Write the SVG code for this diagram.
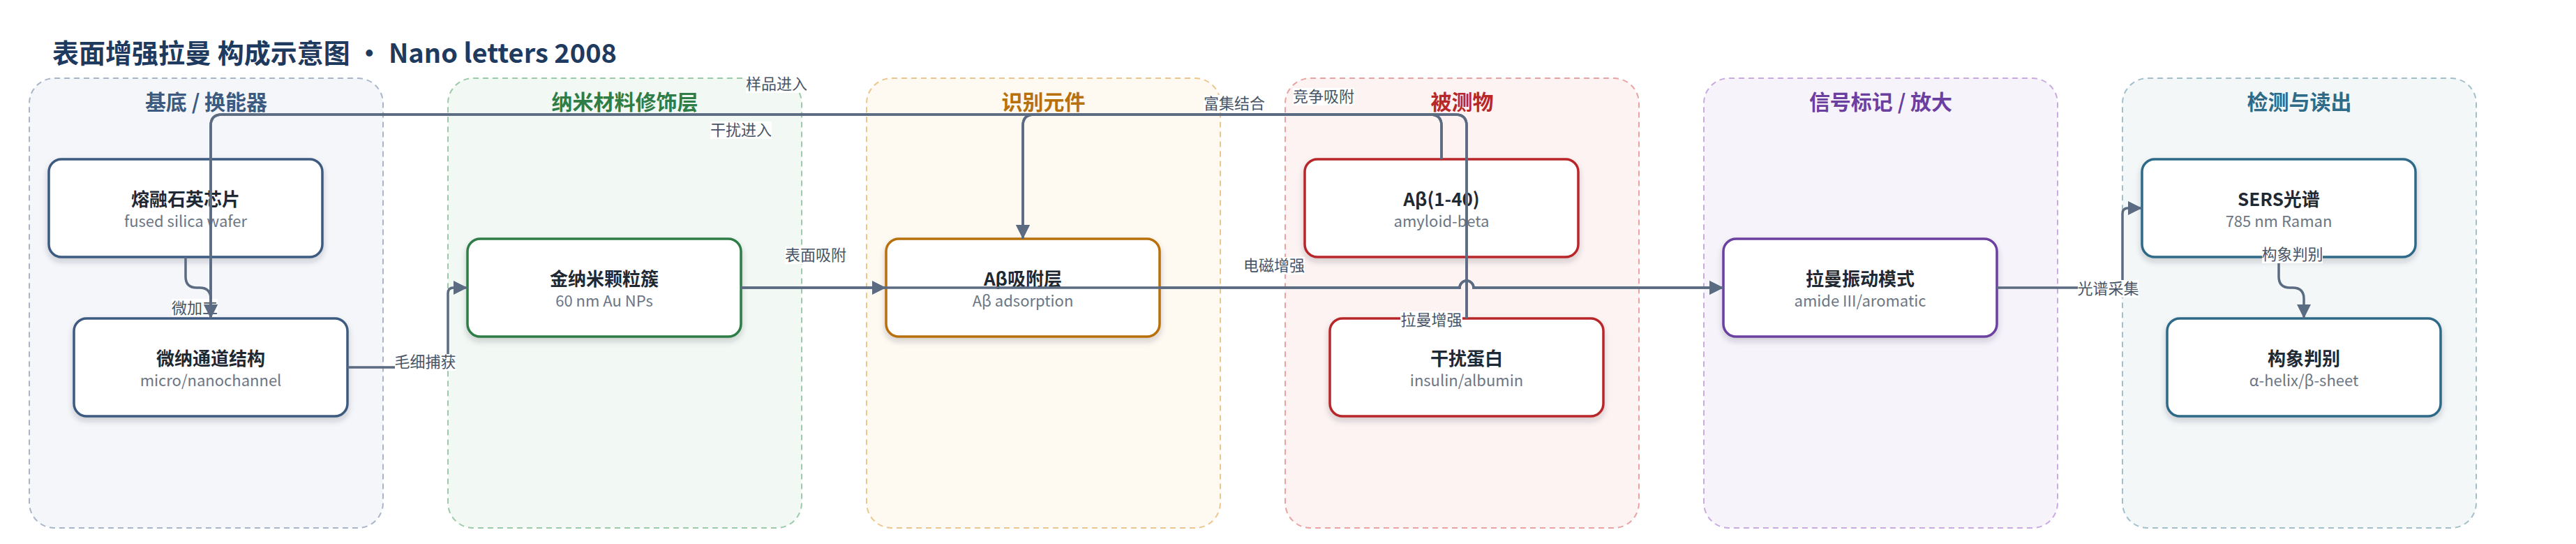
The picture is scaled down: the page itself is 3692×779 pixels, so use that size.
<svg xmlns="http://www.w3.org/2000/svg" width="3692" height="779" viewBox="0 0 3692 779">
<defs>
<style>
text{font-family:"Noto Sans CJK SC","Noto Sans",sans-serif;}
.title{font-size:38px;font-weight:700;fill:#1e3a5f;}
.lane{stroke-width:2;stroke-dasharray:8 6;}
.lt{font-size:30px;font-weight:700;text-anchor:middle;}
.node rect{fill:#ffffff;stroke-width:3.5;filter:url(#sh);}
.nt{font-size:26px;font-weight:700;fill:#1f2933;text-anchor:middle;}
.ns{font-size:22px;fill:#6b7684;text-anchor:middle;}
.e{fill:none;stroke:#5b6b81;stroke-width:3.5;}
.ea{marker-end:url(#ah);}
.lb{fill:#ffffff;}
.lx{font-size:22px;fill:#475466;text-anchor:middle;}
</style>
<filter id="sh" x="-10%" y="-20%" width="120%" height="150%">
<feDropShadow dx="0" dy="5" stdDeviation="4" flood-color="#1e293b" flood-opacity="0.2"/>
</filter>
<marker id="ah" markerUnits="userSpaceOnUse" markerWidth="20" markerHeight="20" refX="20" refY="10" orient="auto">
<path d="M0,0 L20,10 L0,20 z" fill="#5b6b81"/>
</marker>
</defs>
<rect width="3692" height="779" fill="#ffffff"/>
<text class="title" x="75" y="90">表面增强拉曼 构成示意图 · Nano letters 2008</text>

<g id="lanes">
<g id="lane-substrate"><rect class="lane" x="42" y="112" width="507" height="644" rx="36" fill="#f4f6fa" stroke="#a9b6c9"/><text class="lt" x="295.5" y="157" fill="#3d5a80">基底 / 换能器</text></g>
<g id="lane-nano"><rect class="lane" x="642" y="112" width="507" height="644" rx="36" fill="#f2f8f3" stroke="#9ccba9"/><text class="lt" x="895.5" y="157" fill="#2e7d46">纳米材料修饰层</text></g>
<g id="lane-recog"><rect class="lane" x="1242" y="112" width="507" height="644" rx="36" fill="#fef9f1" stroke="#ebc68f"/><text class="lt" x="1495.5" y="157" fill="#b8700a">识别元件</text></g>
<g id="lane-analyte"><rect class="lane" x="1842" y="112" width="507" height="644" rx="36" fill="#fdf3f2" stroke="#e9a3a1"/><text class="lt" x="2095.5" y="157" fill="#b8282a">被测物</text></g>
<g id="lane-signal"><rect class="lane" x="2442" y="112" width="507" height="644" rx="36" fill="#f7f3fb" stroke="#c9abe1"/><text class="lt" x="2695.5" y="157" fill="#6b3fa0">信号标记 / 放大</text></g>
<g id="lane-detect"><rect class="lane" x="3042" y="112" width="507" height="644" rx="36" fill="#f3f7f8" stroke="#a2c0cc"/><text class="lt" x="3295.5" y="157" fill="#2e6b88">检测与读出</text></g>
</g>

<g id="n1" class="node"><rect x="70" y="228" width="392" height="140" rx="18" stroke="#3d5a80"/><text class="nt" x="266" y="295">熔融石英芯片</text><text class="ns" x="266" y="325">fused silica wafer</text></g>
<g id="n2" class="node"><rect x="106" y="456" width="392" height="140" rx="18" stroke="#3d5a80"/><text class="nt" x="302" y="523">微纳通道结构</text><text class="ns" x="302" y="553">micro/nanochannel</text></g>
<g id="n3" class="node"><rect x="670" y="342" width="392" height="140" rx="18" stroke="#2e7d46"/><text class="nt" x="866" y="409">金纳米颗粒簇</text><text class="ns" x="866" y="439">60 nm Au NPs</text></g>
<g id="n4" class="node"><rect x="1270" y="342" width="392" height="140" rx="18" stroke="#b8700a"/><text class="nt" x="1466" y="409">Aβ吸附层</text><text class="ns" x="1466" y="439">Aβ adsorption</text></g>
<g id="n5" class="node"><rect x="1870" y="228" width="392" height="140" rx="18" stroke="#b8282a"/><text class="nt" x="2066" y="295">Aβ(1-40)</text><text class="ns" x="2066" y="325">amyloid-beta</text></g>
<g id="n6" class="node"><rect x="1906" y="456" width="392" height="140" rx="18" stroke="#b8282a"/><text class="nt" x="2102" y="523">干扰蛋白</text><text class="ns" x="2102" y="553">insulin/albumin</text></g>
<g id="n7" class="node"><rect x="2470" y="342" width="392" height="140" rx="18" stroke="#6b3fa0"/><text class="nt" x="2666" y="409">拉曼振动模式</text><text class="ns" x="2666" y="439">amide III/aromatic</text></g>
<g id="n8" class="node"><rect x="3070" y="228" width="392" height="140" rx="18" stroke="#2e6b88"/><text class="nt" x="3266" y="295">SERS光谱</text><text class="ns" x="3266" y="325">785 nm Raman</text></g>
<g id="n9" class="node"><rect x="3106" y="456" width="392" height="140" rx="18" stroke="#2e6b88"/><text class="nt" x="3302" y="523">构象判别</text><text class="ns" x="3302" y="553">α-helix/β-sheet</text></g>

<g id="connectors">
<g id="e1"><path class="e ea" d="M266,368 V396 Q266,412 282,412 H286 Q302,412 302,428 V456"/><rect class="lb" x="246" y="428" width="66" height="25"/><text class="lx" x="279" y="449">微加工</text></g>
<g id="e2"><path class="e ea" d="M2066,228 V180 Q2066,164 2050,164 H318 Q302,164 302,180 V456"/><rect class="lb" x="1069" y="108" width="88" height="25"/><text class="lx" x="1113" y="128">样品进入</text></g>
<g id="e3"><path class="e ea" d="M2102,456 V180 Q2102,164 2086,164 H318 Q302,164 302,180 V456"/><rect class="lb" x="1018" y="174" width="88" height="25"/><text class="lx" x="1062" y="194">干扰进入</text></g>
<g id="e4"><path class="e ea" d="M498,526 H634 Q642,526 642,518 V420 Q642,412 650,412 H670"/><rect class="lb" x="566" y="507" width="87" height="24"/><text class="lx" x="609.5" y="526">毛细捕获</text></g>
<g id="e5"><path class="e ea" d="M1062,412 H1270"/><rect class="lb" x="1125" y="353" width="88" height="25"/><text class="lx" x="1169" y="373">表面吸附</text></g>
<g id="e6"><path class="e ea" d="M1062,412 H2092 A10,10 0 0 1 2112,412 H2470"/><rect class="lb" x="1782" y="368" width="88" height="25"/><text class="lx" x="1826" y="388">电磁增强</text></g>
<g id="e7"><path class="e ea" d="M1662,412 H2092 A10,10 0 0 1 2112,412 H2470"/><rect class="lb" x="2007" y="446" width="89" height="25"/><text class="lx" x="2051.5" y="466">拉曼增强</text></g>
<g id="e8"><path class="e ea" d="M2066,228 V180 Q2066,164 2050,164 H1482 Q1466,164 1466,180 V342"/><rect class="lb" x="1725" y="136" width="88" height="25"/><text class="lx" x="1769" y="156">富集结合</text></g>
<g id="e9"><path class="e ea" d="M2102,456 V180 Q2102,164 2086,164 H1482 Q1466,164 1466,180 V342"/><rect class="lb" x="1853" y="126" width="88" height="25"/><text class="lx" x="1897" y="146">竞争吸附</text></g>
<g id="e10"><path class="e ea" d="M2862,412 H3034 Q3042,412 3042,404 V306 Q3042,298 3050,298 H3070"/><rect class="lb" x="2978" y="401" width="87" height="25"/><text class="lx" x="3021.5" y="421">光谱采集</text></g>
<g id="e11"><path class="e ea" d="M3266,368 V396 Q3266,412 3282,412 H3286 Q3302,412 3302,428 V456"/><rect class="lb" x="3242" y="352" width="87" height="25"/><text class="lx" x="3285.5" y="372">构象判别</text></g>
</g>
</svg>
